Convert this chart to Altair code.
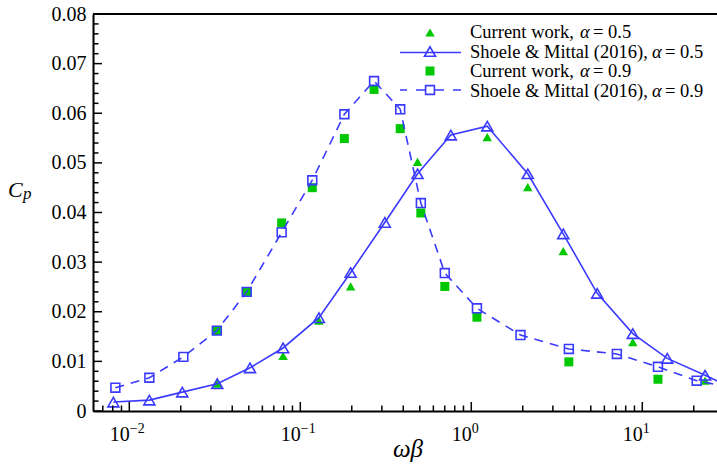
import altair as alt
import pandas as pd

# ---------------- data ----------------
# Shoele & Mittal (2016), alpha = 0.5  (open triangles, solid line)
sm05_x = [0.00807, 0.0131, 0.0204, 0.0327, 0.0508, 0.0793, 0.1285, 0.197, 0.312,
          0.485, 0.759, 1.24, 2.14, 3.45, 5.45, 8.8, 14.0, 23.3, 37.0]
sm05_y = [0.0018, 0.0022, 0.0038, 0.0055, 0.0087, 0.0127, 0.0188, 0.0279, 0.0380,
          0.0478, 0.0556, 0.0574, 0.0478, 0.0357, 0.0237, 0.0156, 0.0106, 0.0072, 0.0040]

# Current work, alpha = 0.5 (filled green triangles)
cw05_x = [0.0327, 0.0793, 0.1285, 0.197, 0.485, 1.24, 2.14, 3.45, 8.8, 23.3]
cw05_y = [0.0055, 0.0111, 0.0182, 0.0251, 0.0502, 0.0552, 0.0451, 0.0322, 0.0139, 0.0061]

# Shoele & Mittal (2016), alpha = 0.9  (open squares, dashed line)
sm09_x = [0.00829, 0.0131, 0.0207, 0.0325, 0.0486, 0.0778, 0.1175, 0.181, 0.270,
          0.384, 0.507, 0.700, 1.079, 1.94, 3.72, 7.10, 12.35, 20.8, 34.0]
sm09_y = [0.0047, 0.0067, 0.0109, 0.0162, 0.0240, 0.0360, 0.0465, 0.0598, 0.0665,
          0.0608, 0.0419, 0.0278, 0.0207, 0.0153, 0.0125, 0.0115, 0.0089, 0.0061, 0.0047]

# Current work, alpha = 0.9 (filled green squares)
cw09_x = [0.0325, 0.0486, 0.0778, 0.1175, 0.181, 0.270, 0.384, 0.507, 0.700, 1.079, 3.72, 12.35]
cw09_y = [0.0162, 0.0240, 0.0379, 0.0450, 0.0549, 0.0648, 0.0569, 0.0399, 0.0251, 0.0189, 0.0099, 0.0064]

y_major = [0.0, 0.01, 0.02, 0.03, 0.04, 0.05, 0.06, 0.07, 0.08]
x_major = [0.01, 0.1, 1.0, 10.0]
x_exponents = ["\u22122", "\u22121", "0", "1"]

legend_labels = ["Current work, ", "Shoele & Mittal (2016), ", "Current work, ", "Shoele & Mittal (2016), "]
legend_alpha = ["= 0.5", "= 0.5", "= 0.9", "= 0.9"]

# ---------------- styling ----------------
W, H = 624, 397
BLUE = "#3a3aff"
GREEN = "#00c800"
SERIF = "Liberation Serif"

x_min, x_max = 0.006133, 27.35
xscale = alt.Scale(type="log", domain=[x_min, x_max], nice=False)
yscale = alt.Scale(domain=[0, 0.08], nice=False, zero=False)

xaxis = alt.Axis(values=x_major, labelExpr="'10'", labelAlign="right", labelBaseline="alphabetic",
                 labelPadding=29.5, labelFlush=False, ticks=False, tickSize=0, grid=False,
                 title=None, domainWidth=2, domainColor="black", labelFontSize=20,
                 labelFont=SERIF, labelColor="black")
yaxis = alt.Axis(values=y_major,
                 labelExpr="datum.value == 0 ? '0' : format(datum.value, '.2f')",
                 labelPadding=7, ticks=False, tickSize=0, grid=False, title=None,
                 domainWidth=2, domainColor="black", labelFontSize=20, labelBaseline="middle",
                 labelFont=SERIF, labelColor="black")


def X(field="x"):
    return alt.X(f"{field}:Q", scale=xscale, axis=xaxis)


def Y(field="y"):
    return alt.Y(f"{field}:Q", scale=yscale, axis=yaxis)


sm05 = pd.DataFrame({"x": sm05_x, "y": sm05_y})
cw05 = pd.DataFrame({"x": cw05_x, "y": cw05_y})
sm09 = pd.DataFrame({"x": sm09_x, "y": sm09_y})
cw09 = pd.DataFrame({"x": cw09_x, "y": cw09_y})

layers = []

# green markers (underneath)
layers.append(alt.Chart(cw05).mark_point(shape="triangle-up", filled=True, color=GREEN, size=90,
                                         opacity=1, strokeWidth=0, clip=True).encode(x=X(), y=Y()))
layers.append(alt.Chart(cw09).mark_point(shape="square", filled=True, color=GREEN, size=81,
                                         opacity=1, strokeWidth=0, clip=True).encode(x=X(), y=Y()))

# Shoele & Mittal lines + open markers
layers.append(alt.Chart(sm05).mark_line(color=BLUE, strokeWidth=1.6, clip=True).encode(x=X(), y=Y()))
layers.append(alt.Chart(sm05).mark_point(shape="triangle-up", filled=False, color=BLUE, size=121,
                                         opacity=1, strokeWidth=1.6, clip=True).encode(x=X(), y=Y()))
layers.append(alt.Chart(sm09).mark_line(color=BLUE, strokeWidth=1.6, strokeDash=[9, 7], clip=True)
              .encode(x=X(), y=Y()))
layers.append(alt.Chart(sm09).mark_point(shape="square", filled=False, color=BLUE, size=78,
                                         opacity=1, strokeWidth=1.6, clip=True).encode(x=X(), y=Y()))

# inward ticks
y_minor = [round(i * 0.002, 4) for i in range(41) if i % 5 != 0]
x_minor = []
for dec in [0.001, 0.01, 0.1, 1.0, 10.0]:
    for k in range(2, 10):
        v = k * dec
        if x_min < v < x_max:
            x_minor.append(v)

ymaj_df = pd.DataFrame({"y": y_major})
ymin_df = pd.DataFrame({"y": y_minor})
xmaj_df = pd.DataFrame({"x": x_major})
xmin_df = pd.DataFrame({"x": x_minor})

layers.append(alt.Chart(ymaj_df).mark_rule(color="black", strokeWidth=1.5)
              .encode(y=Y(), x=alt.value(0), x2=alt.value(9)))
layers.append(alt.Chart(ymin_df).mark_rule(color="black", strokeWidth=1.5)
              .encode(y=Y(), x=alt.value(0), x2=alt.value(5.5)))
layers.append(alt.Chart(xmaj_df).mark_rule(color="black", strokeWidth=1.5)
              .encode(x=X(), y=alt.value(H), y2=alt.value(H - 9)))
layers.append(alt.Chart(xmin_df).mark_rule(color="black", strokeWidth=1.5)
              .encode(x=X(), y=alt.value(H), y2=alt.value(H - 5.5)))

# exponent superscripts on x labels
exp_df = pd.DataFrame({"x": x_major, "t": x_exponents})
layers.append(alt.Chart(exp_df).mark_text(font=SERIF, fontSize=14, align="left", baseline="alphabetic",
                                          color="black", dx=0.5)
              .encode(x=X(), y=alt.value(419), text="t:N"))

one = pd.DataFrame({"a": [0]})

# top frame line
layers.append(alt.Chart(one).mark_rule(color="black", strokeWidth=2)
              .encode(x=alt.value(0), x2=alt.value(W), y=alt.value(0)))

# axis titles
layers.append(alt.Chart(one).mark_text(text="C", font=SERIF, fontStyle="italic", fontSize=22,
                                       align="left", baseline="alphabetic", color="black")
              .encode(x=alt.value(-85), y=alt.value(183)))
layers.append(alt.Chart(one).mark_text(text="p", font=SERIF, fontStyle="italic", fontSize=17,
                                       align="left", baseline="alphabetic", color="black")
              .encode(x=alt.value(-70), y=alt.value(185)))
layers.append(alt.Chart(one).mark_text(text="\u03c9\u03b2", font=SERIF, fontStyle="italic", fontSize=25,
                                       align="center", baseline="alphabetic", color="black")
              .encode(x=alt.value(315), y=alt.value(443)))

# legend
row_sym = [18.5, 37.5, 57, 76]
row_base = [24.3, 43.7, 63.1, 82.5]
sym_x = 337
txt_x = 377
alpha_x = [487, 559, 487, 559]

layers.append(alt.Chart(one).mark_point(shape="triangle-up", filled=True, color=GREEN, size=90,
                                        opacity=1, strokeWidth=0)
              .encode(x=alt.value(sym_x), y=alt.value(row_sym[0])))
layers.append(alt.Chart(one).mark_rule(color=BLUE, strokeWidth=1.6)
              .encode(x=alt.value(307), x2=alt.value(368), y=alt.value(row_sym[1] + 1)))
layers.append(alt.Chart(one).mark_point(shape="triangle-up", filled=False, color=BLUE, size=121,
                                        opacity=1, strokeWidth=1.6)
              .encode(x=alt.value(sym_x), y=alt.value(row_sym[1])))
layers.append(alt.Chart(one).mark_point(shape="square", filled=True, color=GREEN, size=81,
                                        opacity=1, strokeWidth=0)
              .encode(x=alt.value(sym_x), y=alt.value(row_sym[2])))
layers.append(alt.Chart(one).mark_rule(color=BLUE, strokeWidth=1.6, strokeDash=[10, 9])
              .encode(x=alt.value(333), x2=alt.value(307), y=alt.value(row_sym[3])))
layers.append(alt.Chart(one).mark_rule(color=BLUE, strokeWidth=1.6, strokeDash=[10, 9])
              .encode(x=alt.value(341), x2=alt.value(368), y=alt.value(row_sym[3])))
layers.append(alt.Chart(one).mark_point(shape="square", filled=False, color=BLUE, size=78,
                                        opacity=1, strokeWidth=1.6)
              .encode(x=alt.value(sym_x), y=alt.value(row_sym[3])))

for i in range(4):
    layers.append(alt.Chart(one).mark_text(text=legend_labels[i], font=SERIF, fontSize=18.5,
                                           align="left", baseline="alphabetic", color="black")
                  .encode(x=alt.value(txt_x), y=alt.value(row_base[i])))
    layers.append(alt.Chart(one).mark_text(text="\u03b1", font=SERIF, fontStyle="italic", fontSize=18.5,
                                           align="left", baseline="alphabetic", color="black")
                  .encode(x=alt.value(alpha_x[i]), y=alt.value(row_base[i])))
    layers.append(alt.Chart(one).mark_text(text=legend_alpha[i], font=SERIF, fontSize=18.5,
                                           align="left", baseline="alphabetic", color="black")
                  .encode(x=alt.value(alpha_x[i] + 13), y=alt.value(row_base[i])))

chart = alt.layer(*layers).properties(
    width=W, height=H,
    autosize=alt.AutoSizeParams(type="none"),
    padding={"left": 93, "top": 14, "right": 0, "bottom": 55},
    background="white",
).configure(font=SERIF).configure_view(stroke=None)

chart.save("out.html", embed_options={"renderer": "svg", "actions": False})
